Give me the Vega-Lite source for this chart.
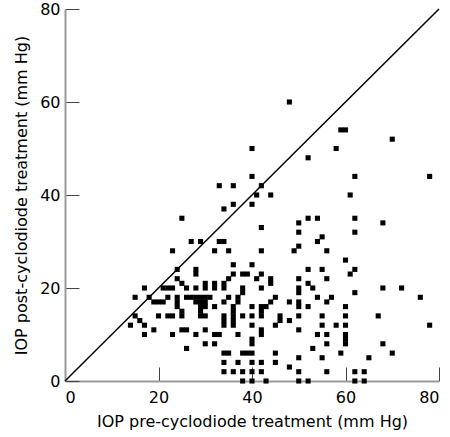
{
  "$schema": "https://vega.github.io/schema/vega-lite/v6.json",
  "autosize": "none",
  "width": 374,
  "height": 372,
  "padding": {"left": 65, "top": 9, "right": 11, "bottom": 56},
  "config": {
    "view": {"stroke": null},
    "font": "DejaVu Sans",
    "axis": {
      "grid": false,
      "domainColor": "#999999",
      "domainWidth": 2,
      "tickColor": "#444444",
      "tickWidth": 1,
      "tickSize": -14,
      "labelFont": "DejaVu Sans",
      "labelFontSize": 16,
      "labelColor": "#000000",
      "titleFont": "DejaVu Sans",
      "titleFontSize": 16,
      "titleFontWeight": "normal",
      "titleColor": "#000000"
    }
  },
  "layer": [
    {
      "data": {"values": [{"pre": 0, "post": 0}, {"pre": 80, "post": 80}]},
      "mark": {"type": "line", "color": "#000000", "strokeWidth": 1.5},
      "encoding": {
        "x": {"field": "pre", "type": "quantitative"},
        "y": {"field": "post", "type": "quantitative"}
      }
    },
    {
      "data": {"values": [
        {"pre":48,"post":60},{"pre":59,"post":54},{"pre":60,"post":54},{"pre":70,"post":52},{"pre":58,"post":50},{"pre":52,"post":48},{"pre":62,"post":44},{"pre":78,"post":44},{"pre":61,"post":40},{"pre":52,"post":35},{"pre":54,"post":35},{"pre":62,"post":35},{"pre":50,"post":34},{"pre":68,"post":34},{"pre":50,"post":32},{"pre":62,"post":32},{"pre":55,"post":31},
        {"pre":40,"post":50},{"pre":40,"post":44},{"pre":33,"post":42},{"pre":36,"post":42},{"pre":42,"post":42},{"pre":41,"post":40},{"pre":44,"post":40},{"pre":34,"post":37},{"pre":36,"post":38},{"pre":40,"post":38},{"pre":25,"post":35},{"pre":42,"post":33},
        {"pre":27,"post":30},{"pre":29,"post":30},{"pre":33,"post":30},{"pre":34,"post":30},{"pre":50,"post":29},{"pre":49,"post":28},{"pre":32,"post":28},{"pre":35,"post":28},{"pre":42,"post":28},{"pre":23,"post":28},{"pre":54,"post":30},{"pre":56,"post":28},{"pre":60,"post":26},
        {"pre":36,"post":25},{"pre":40,"post":25},{"pre":24,"post":24},{"pre":28,"post":24},{"pre":28,"post":23},{"pre":38,"post":23},{"pre":39,"post":23},{"pre":42,"post":23},{"pre":41,"post":22},{"pre":44,"post":22},{"pre":44,"post":21},{"pre":52,"post":24},{"pre":55,"post":24},{"pre":62,"post":24},{"pre":61,"post":23},
        {"pre":24,"post":22},{"pre":25,"post":21},{"pre":26,"post":20},{"pre":50,"post":22},{"pre":52,"post":21},{"pre":56,"post":22},{"pre":53,"post":20},{"pre":50,"post":20},{"pre":50,"post":19},{"pre":62,"post":19},{"pre":68,"post":20},{"pre":72,"post":20},{"pre":76,"post":18},{"pre":54,"post":18},{"pre":57,"post":18},{"pre":56,"post":17},
        {"pre":17,"post":20},{"pre":21,"post":20},{"pre":22,"post":20},{"pre":23,"post":20},{"pre":28,"post":20},{"pre":30,"post":21},{"pre":30,"post":20},{"pre":32,"post":21},{"pre":32,"post":20},{"pre":34,"post":21},{"pre":34,"post":20},{"pre":35,"post":22},{"pre":36,"post":23},{"pre":38,"post":20},{"pre":38,"post":19},{"pre":42,"post":20},
        {"pre":15,"post":18},{"pre":18,"post":18},{"pre":19,"post":17},{"pre":20,"post":17},{"pre":21,"post":17},{"pre":22,"post":18},{"pre":24,"post":18},{"pre":24,"post":17},{"pre":26,"post":18},{"pre":24,"post":16},{"pre":25,"post":15},{"pre":25,"post":14},
        {"pre":27,"post":18},{"pre":28,"post":18},{"pre":29,"post":18},{"pre":30,"post":18},{"pre":31,"post":18},{"pre":28,"post":17},{"pre":29,"post":17},{"pre":30,"post":17},{"pre":29,"post":16},{"pre":30,"post":16},{"pre":29,"post":15},{"pre":29,"post":14},{"pre":30,"post":14},{"pre":32,"post":16},{"pre":34,"post":17},{"pre":35,"post":18},
        {"pre":37,"post":18},{"pre":37,"post":17},{"pre":36,"post":16},{"pre":36,"post":15},{"pre":36,"post":14},{"pre":40,"post":16},{"pre":42,"post":16},{"pre":42,"post":15},{"pre":42,"post":14},{"pre":43,"post":16},{"pre":44,"post":17},{"pre":45,"post":18},{"pre":48,"post":17},{"pre":50,"post":17},{"pre":50,"post":16},{"pre":52,"post":16},{"pre":60,"post":16},
        {"pre":15,"post":14},{"pre":16,"post":13},{"pre":20,"post":14},{"pre":22,"post":14},{"pre":23,"post":14},{"pre":14,"post":12},{"pre":17,"post":12},{"pre":19,"post":11},{"pre":17,"post":10},{"pre":23,"post":10},{"pre":25,"post":11},{"pre":26,"post":11},{"pre":26,"post":7},{"pre":28,"post":10},{"pre":30,"post":11},{"pre":32,"post":10},{"pre":33,"post":10},{"pre":30,"post":8},{"pre":32,"post":8},
        {"pre":34,"post":14},{"pre":34,"post":13},{"pre":34,"post":12},{"pre":36,"post":13},{"pre":36,"post":12},{"pre":38,"post":14},{"pre":40,"post":14},{"pre":40,"post":12},{"pre":37,"post":10},{"pre":42,"post":11},{"pre":42,"post":10},{"pre":46,"post":14},{"pre":46,"post":13},{"pre":45,"post":12},{"pre":48,"post":13},{"pre":50,"post":14},{"pre":50,"post":11},{"pre":55,"post":14},{"pre":60,"post":14},{"pre":67,"post":14},
        {"pre":55,"post":12},{"pre":58,"post":12},{"pre":60,"post":12},{"pre":78,"post":12},{"pre":54,"post":10},{"pre":56,"post":10},{"pre":60,"post":10},{"pre":60,"post":9},{"pre":60,"post":8},{"pre":56,"post":8},{"pre":68,"post":8},{"pre":53,"post":7},{"pre":40,"post":9},{"pre":40,"post":8},
        {"pre":34,"post":6},{"pre":35,"post":6},{"pre":38,"post":6},{"pre":39,"post":6},{"pre":40,"post":6},{"pre":45,"post":6},{"pre":59,"post":6},{"pre":70,"post":6},{"pre":55,"post":5},{"pre":65,"post":5},{"pre":50,"post":5},
        {"pre":34,"post":4},{"pre":37,"post":4},{"pre":40,"post":4},{"pre":42,"post":4},{"pre":45,"post":4},{"pre":48,"post":3},
        {"pre":34,"post":2},{"pre":36,"post":2},{"pre":38,"post":2},{"pre":40,"post":2},{"pre":42,"post":2},{"pre":50,"post":2},{"pre":56,"post":2},{"pre":62,"post":2},{"pre":64,"post":2},
        {"pre":38,"post":0},{"pre":40,"post":0},{"pre":43,"post":0},{"pre":50,"post":0},{"pre":52,"post":0},{"pre":62,"post":0},{"pre":64,"post":0}
      ]},
      "mark": {"type": "square", "color": "#000000", "opacity": 1, "size": 26, "clip": false},
      "encoding": {
        "x": {
          "field": "pre", "type": "quantitative",
          "scale": {"domain": [0, 80], "nice": false, "zero": true},
          "axis": {"values": [0, 20, 40, 60, 80], "title": "IOP pre-cyclodiode treatment (mm Hg)", "labelPadding": 22, "titlePadding": 8}
        },
        "y": {
          "field": "post", "type": "quantitative",
          "scale": {"domain": [0, 80], "nice": false, "zero": true},
          "axis": {"values": [0, 20, 40, 60, 80], "title": "IOP post-cyclodiode treatment (mm Hg)", "labelPadding": 19, "titlePadding": 10}
        }
      }
    }
  ]
}
